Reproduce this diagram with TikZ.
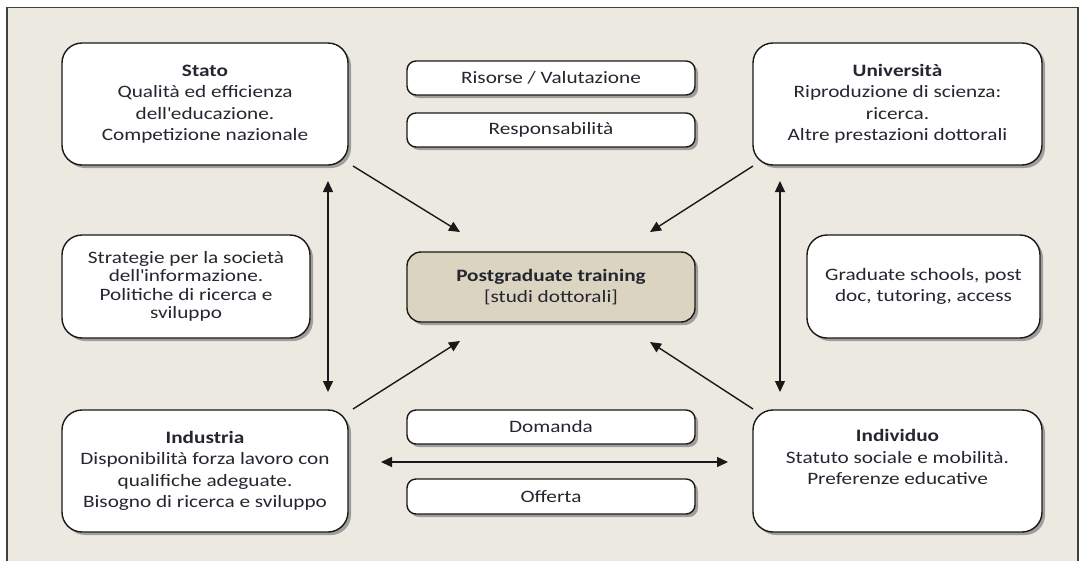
\documentclass[tikz,border=0pt]{standalone}
\usepackage{fontspec}
\setmainfont{Carlito}[FakeStretch=1.22]
\usetikzlibrary{arrows.meta,shadows}
\definecolor{bgframe}{HTML}{ECEAE0}
\definecolor{centerfill}{HTML}{DAD4C1}
\definecolor{txt}{HTML}{262630}
\begin{document}
\begin{tikzpicture}[x=1pt,y=-1pt,
  base/.style={draw=black!90,line width=1.4pt,fill=white,align=center,text=txt,
    inner sep=0pt,font=\fontsize{17.4}{21.5}\selectfont,
    drop shadow={shadow xshift=3pt,shadow yshift=-3pt,fill=black!45,opacity=0.8}},
  bigbox/.style={base,rounded corners=20pt,minimum width=286pt,minimum height=122pt},
  midbox/.style={base,rounded corners=20pt,minimum height=103pt},
  smallbox/.style={base,rounded corners=9pt,minimum width=288pt,minimum height=34pt},
  conn/.style={line width=1.4pt,draw=black!90,-{Triangle[length=11pt,width=10pt]}},
  dconn/.style={line width=1.4pt,draw=black!90,{Triangle[length=11pt,width=10pt]}-{Triangle[length=11pt,width=10pt]}}]
\useasboundingbox (0,0) rectangle (1086,560);
\fill[white] (0,0) rectangle (1086,560);
\draw[fill=bgframe,draw=black!75,line width=1.2pt] (7,7.5) rectangle (1078,565);

\node[bigbox] (stato) at (205,104) {\textbf{Stato}\\Qualità ed efficienza\\dell\textquotesingle educazione.\\Competizione nazionale};
\node[bigbox,minimum width=289pt] (univ) at (897.5,104) {\textbf{Università}\\Riproduzione di scienza:\\ricerca.\\Altre prestazioni dottorali};
\node[smallbox] (risorse) at (551,78) {Risorse / Valutazione};
\node[smallbox] (resp) at (551,130) {Responsabilità};
\node[base,rounded corners=14pt,minimum width=288pt,minimum height=70pt,fill=centerfill] (pg) at (551,287) {\textbf{Postgraduate training}\\{}[studi dottorali]};
\node[midbox,minimum width=248pt,font=\fontsize{17.4}{18.5}\selectfont] (strat) at (186,286.5) {Strategie per la società\\dell\textquotesingle informazione.\\Politiche di ricerca e\\sviluppo};
\node[midbox,minimum width=233pt] (grad) at (923.5,286.5) {Graduate schools, post\\doc, tutoring, access};
\node[bigbox] (ind) at (205,471) {\textbf{Industria}\\Disponibilità forza lavoro con\\qualifiche adeguate.\\Bisogno di ricerca e sviluppo};
\node[bigbox,minimum width=289pt] (indiv) at (897.5,471) {\textbf{Individuo}\\Statuto sociale e mobilità.\\Preferenze educative\\[6pt]};
\node[smallbox] (dom) at (551,427) {Domanda};
\node[smallbox,minimum height=35pt] (off) at (551,496.5) {Offerta};

% connector end points
\coordinate (s1) at (353,166);
\coordinate (s2) at (460,232);
\coordinate (u1) at (753,166);
\coordinate (u2) at (650,232);
\coordinate (i1) at (353,409);
\coordinate (i2) at (460,341);
\coordinate (v1) at (753,409);
\coordinate (v2) at (650,342);
\coordinate (lt) at (328,181);
\coordinate (lb) at (328,392);
\coordinate (rt) at (780,181);
\coordinate (rb) at (780,392);
\coordinate (hl) at (381,462);
\coordinate (hr) at (728,462);

\draw[conn] (s1) -- (s2);
\draw[conn] (u1) -- (u2);
\draw[conn] (i1) -- (i2);
\draw[conn] (v1) -- (v2);
\draw[dconn] (lt) -- (lb);
\draw[dconn] (rt) -- (rb);
\draw[dconn] (hl) -- (hr);
\end{tikzpicture}
\end{document}
